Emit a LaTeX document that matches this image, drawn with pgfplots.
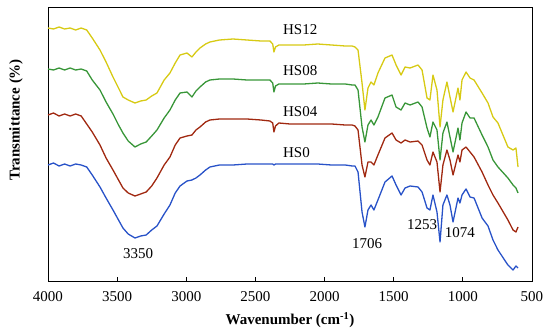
\documentclass[border=0pt]{standalone}
\usepackage{pgfplots}
\pgfplotsset{compat=1.18}
\usepackage{pgfplotstable}
\usepackage{fontspec}
\setmainfont{Liberation Serif}
\definecolor{cHSzero}{RGB}{40,82,200}
\definecolor{cHSfour}{RGB}{160,40,16}
\definecolor{cHSeight}{RGB}{56,150,56}
\definecolor{cHStwelve}{RGB}{215,202,20}
\pgfplotstableread{
w hsz hsf hse hst
4000 116 166 212 253
3960 118 168 211 252
3920 115 165 213 254
3880 117 167 211 252
3840 115 165 213 253
3800 117 167 211 251
3760 116 165 212 253
3720 114 157 210 251
3680 106 149 201 243
3624 94 136 191 231
3580 83 123 179 219
3530 71 111 167 204
3490 61 101 156 193
3458 53 93 148 184
3420 47 88 140 181
3371 43 85 134 178
3330 45 87 137 180
3290 46 89 139 181
3250 51 95 145 185
3212 55 103 151 188
3160 67 116 163 201
3118 76 124 171 208
3080 88 136 181 218
3045 95 143 188 226
2995 100 145 189 228
2959 101 146 184 224
2930 103 151 190 229
2901 106 154 194 233
2860 111 159 199 237
2829 114 161 201 239
2760 116 162 202 241
2662 116 162 202 242
2560 117 162 201 241
2460 117 161 201 240
2395 117 160 201 240
2375 117 158 198 237
2366 116 149 189 229
2355 117 155 195 234
2330 117 158 197 236
2250 117 157 197 236
2150 117 157 197 236
2050 117 157 198 237
1950 116 157 197 236
1850 116 156 197 235
1800 115 156 196 235
1780 115 155 196 234
1758 109 151 191 231
1729 69 116 154 198
1708 54 104 139 171
1686 71 119 156 193
1664 76 119 161 199
1643 71 116 156 196
1614 81 126 164 208
1563 99 143 183 223
1512 105 148 186 226
1483 96 141 174 216
1447 86 138 171 206
1418 93 141 178 214
1382 95 139 176 213
1324 94 140 179 216
1295 89 136 174 211
1259 73 121 153 183
1238 71 116 144 181
1216 86 129 159 206
1187 69 119 151 191
1165 39 89 121 154
1144 76 116 148 181
1115 86 131 159 199
1093 76 121 144 184
1071 59 106 129 169
1035 83 126 153 193
1021 78 119 141 181
1006 86 131 158 201
977 92 134 169 209
948 84 129 163 203
919 83 124 163 201
861 63 109 146 188
818 55 96 134 178
782 41 86 121 164
746 31 78 114 158
674 16 61 103 134
637 11 51 96 131
616 15 49 93 133
601 13 54 88 114
}\ftir
\begin{document}
\fontsize{15}{18}\selectfont
\begin{tikzpicture}
\path[use as bounding box] (-48pt,-54pt) rectangle (502pt,281pt);
\begin{axis}[
  scale only axis, width=484pt, height=274pt,
  x dir=reverse, xmin=500, xmax=4000, ymin=0, ymax=274,
  xtick={500,1000,...,4000}, ytick=\empty,
  xtick pos=bottom, tick align=inside, major tick length=4pt,
  axis line style={line width=0.9pt}, tick style={line width=0.8pt, black},
  /pgf/number format/assume math mode=true,
  /pgf/number format/1000 sep={},
  tick label style={font=\fontsize{15}{18}\selectfont},
  xticklabel style={yshift=-5pt},
  xlabel={\textbf{Wavenumber (cm\textsuperscript{-1})}},
  ylabel={\textbf{Transmittance (\%)}},
  xlabel style={at={(axis description cs:0.5,-0.142)}, anchor=center, font=\fontsize{15}{18}\selectfont},
  ylabel style={at={(axis description cs:-0.066,0.588)}, anchor=center, rotate=0, font=\fontsize{15}{18}\selectfont},
  clip=false,
  every axis plot/.append style={line width=1.3pt, no marks, line join=round},
]
\addplot[color=cHSzero] table[x=w, y=hsz] {\ftir};
\addplot[color=cHSfour] table[x=w, y=hsf] {\ftir};
\addplot[color=cHSeight] table[x=w, y=hse] {\ftir};
\addplot[color=cHStwelve] table[x=w, y=hst] {\ftir};
\node[anchor=west, inner sep=0pt] at (axis cs:2301,251) {HS12};
\node[anchor=west, inner sep=0pt] at (axis cs:2301,210) {HS08};
\node[anchor=west, inner sep=0pt] at (axis cs:2301,169) {HS04};
\node[anchor=west, inner sep=0pt] at (axis cs:2301,128) {HS0};
\node[inner sep=0pt] at (axis cs:3349,27) {3350};
\node[inner sep=0pt] at (axis cs:1693,37) {1706};
\node[inner sep=0pt] at (axis cs:1295,56) {1253};
\node[inner sep=0pt] at (axis cs:1021,48) {1074};
\end{axis}
\end{tikzpicture}
\end{document}
